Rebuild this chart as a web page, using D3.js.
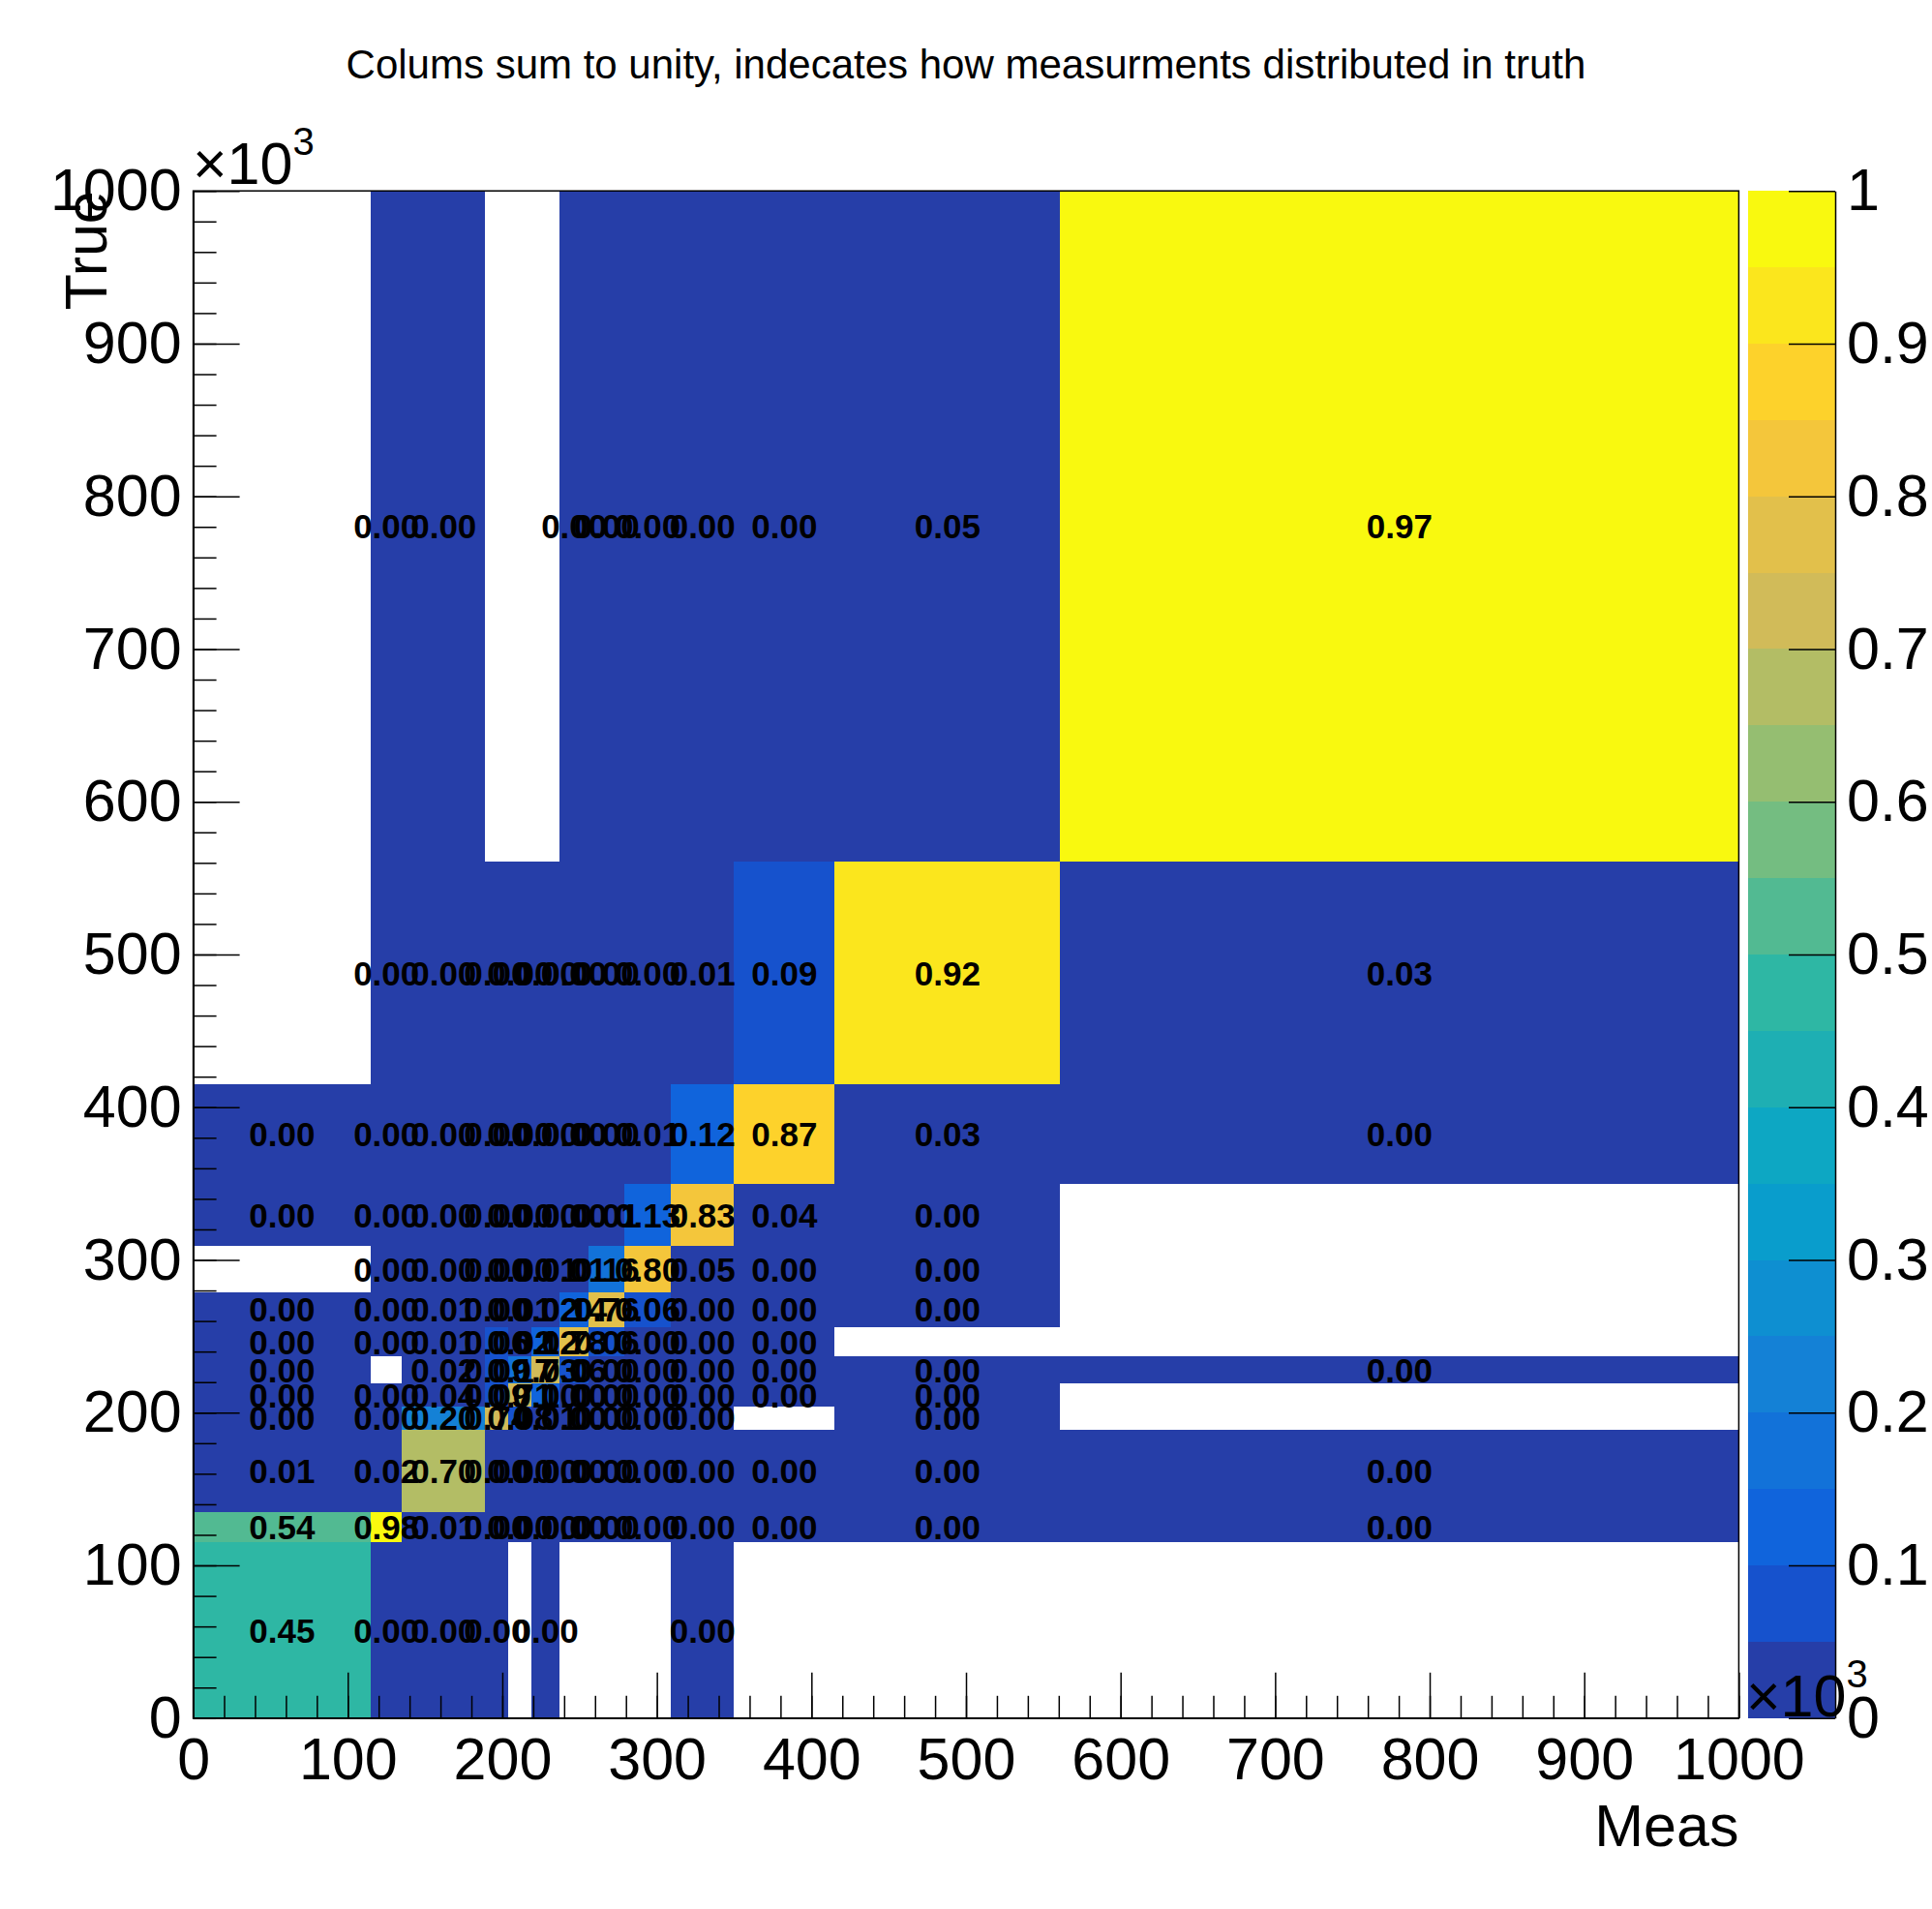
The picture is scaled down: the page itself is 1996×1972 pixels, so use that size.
<!DOCTYPE html>
<html>
<head>
<meta charset="utf-8">
<script src="https://cdn.jsdelivr.net/npm/d3@7"></script>
<style>
  body { margin: 0; background: #fff; }
  text { font-family: "Liberation Sans", Arial, Helvetica, sans-serif; }
</style>
</head>
<body>
<script>
// bin edges (same for Meas and True), in units of 10^3
const binEdges = [0, 115, 135, 189, 204, 219, 237, 256, 279, 309, 350, 415, 561, 1000];

// one array per True bin, entries ordered by Meas bin; null = empty bin
const true000_115 = [0.45, 0.002, 0.002, 0.003, null, 0.002, null, null, null, 0.001, null, null, null];
const true115_135 = [0.54, 0.98, 0.01, 0.002, 0.001, 0.001, 0.001, 0.001, 0.001, 0.001, 0.001, 0.001, 0.001];
const true135_189 = [0.01, 0.02, 0.698, 0.004, 0.002, 0.002, 0.002, 0.001, 0.001, 0.001, 0.001, 0.001, 0.001];
const true189_204 = [0.002, 0.001, 0.203, 0.74, 0.08, 0.01, 0.002, 0.001, 0.001, 0.001, null, 0.001, null];
const true204_219 = [0.001, 0.001, 0.04, 0.09, 0.71, 0.10, 0.003, 0.002, 0.001, 0.001, 0.001, 0.001, null];
const true219_237 = [0.002, null, 0.02, 0.09, 0.17, 0.73, 0.06, 0.004, 0.002, 0.001, 0.001, 0.001, 0.001];
const true237_256 = [0.001, 0.001, 0.01, 0.06, 0.02, 0.12, 0.78, 0.06, 0.004, 0.002, 0.001, null, null];
const true256_279 = [0.001, 0.001, 0.01, 0.003, 0.01, 0.02, 0.14, 0.76, 0.06, 0.003, 0.002, 0.001, null];
const true279_309 = [null, 0.001, 0.003, 0.002, 0.003, 0.01, 0.01, 0.16, 0.801, 0.046, 0.003, 0.001, null];
const true309_350 = [0.001, 0.001, 0.002, 0.002, 0.002, 0.002, 0.003, 0.01, 0.13, 0.83, 0.04, 0.002, null];
const true350_415 = [0.001, 0.001, 0.002, 0.001, 0.001, 0.001, 0.002, 0.003, 0.01, 0.12, 0.87, 0.03, 0.002];
const true415_561 = [null, 0.001, 0.001, 0.001, 0.001, 0.001, 0.001, 0.001, 0.002, 0.01, 0.09, 0.92, 0.03];
const true561_1000 = [null, 0.001, 0.001, null, null, null, 0.001, 0.001, 0.001, 0.002, 0.002, 0.046, 0.97];

const trueRows = [true000_115, true115_135, true135_189, true189_204, true204_219, true219_237,
  true237_256, true256_279, true279_309, true309_350, true350_415, true415_561, true561_1000];

const axisTicks = d3.range(0, 1001, 100);
const paletteTicks = d3.range(0, 11).map(i => i / 10);
const nLevels = 20;

const W = 1996, H = 1972;
const padLeft = 199.6, padRight = 1796.4, padTop = 197.2, padBottom = 1774.8;

const svg = d3.select("body").append("svg")
    .attr("width", W)
    .attr("height", H);

const x = d3.scaleLinear().domain([0, 1000]).range([padLeft, padRight]);
const y = d3.scaleLinear().domain([0, 1000]).range([padBottom, padTop]);
const z = d3.scaleLinear().domain([0, 1]).range([padBottom, padTop]);

// kBird palette, 255 colours like ROOT's gradient table
const stops = [0.0000, 0.1250, 0.2500, 0.3750, 0.5000, 0.6250, 0.7500, 0.8750, 1.0000];
const red   = [0.2082, 0.0592, 0.0780, 0.0232, 0.1802, 0.5301, 0.8186, 0.9956, 0.9764];
const green = [0.1664, 0.3599, 0.5041, 0.6419, 0.7178, 0.7492, 0.7328, 0.7862, 0.9832];
const blue  = [0.5293, 0.8684, 0.8385, 0.7914, 0.6425, 0.4662, 0.3499, 0.1968, 0.0539];
const nColors = 255;
const table = [];
for (let g = 1; g < stops.length; g++) {
    let n = Math.floor(nColors * stops[g]) - Math.floor(nColors * stops[g - 1]);
    for (let c = 0; c < n; c++) {
        let f = c / n;
        table.push(d3.rgb(
            255 * (red[g - 1] + f * (red[g] - red[g - 1])),
            255 * (green[g - 1] + f * (green[g] - green[g - 1])),
            255 * (blue[g - 1] + f * (blue[g] - blue[g - 1]))
        ).toString());
    }
}

function levelColor(level) {
    let idx = Math.floor((level + 0.99) * nColors / nLevels);
    return table[Math.min(idx, table.length - 1)];
}
function colorOf(v) {
    let level = Math.floor(0.01 + v * nLevels);
    return levelColor(Math.min(level, nLevels - 1));
}

// cells
const cells = [];
trueRows.forEach((row, i) => {
    row.forEach((v, j) => {
        if (v !== null) cells.push({ i, j, v });
    });
});

const plot = svg.append("g");
plot.selectAll("rect.cell")
    .data(cells)
    .enter().append("rect")
    .attr("class", "cell")
    .attr("x", d => x(binEdges[d.j]))
    .attr("y", d => y(binEdges[d.i + 1]))
    .attr("width", d => x(binEdges[d.j + 1]) - x(binEdges[d.j]))
    .attr("height", d => y(binEdges[d.i]) - y(binEdges[d.i + 1]))
    .attr("fill", d => colorOf(d.v))
    .attr("shape-rendering", "crispEdges");

// palette
const pal = svg.append("g");
pal.selectAll("rect")
    .data(d3.range(nLevels))
    .enter().append("rect")
    .attr("x", 1806)
    .attr("width", 90)
    .attr("y", k => z((k + 1) / nLevels))
    .attr("height", k => z(k / nLevels) - z((k + 1) / nLevels))
    .attr("fill", k => levelColor(k))
    .attr("shape-rendering", "crispEdges");

const fontSize = 61;

// axes, ticks pointing inward
function styleAxis(g) {
    g.selectAll("path, line").attr("stroke", "#000").attr("stroke-width", 1.5);
    g.selectAll("text").attr("font-size", fontSize).attr("fill", "#000")
        .attr("font-family", "'Liberation Sans', Arial, sans-serif");
}

svg.append("g")
    .attr("transform", `translate(0,${padBottom})`)
    .call(d3.axisBottom(x).tickValues(d3.range(0, 1001, 20)).tickSizeInner(-23).tickSizeOuter(0).tickFormat(""))
    .call(styleAxis);
svg.append("g")
    .attr("transform", `translate(0,${padBottom})`)
    .call(d3.axisBottom(x).tickValues(axisTicks).tickSizeInner(-47).tickSizeOuter(0).tickPadding(20).tickFormat(d3.format("d")))
    .call(styleAxis);

svg.append("g")
    .attr("transform", `translate(${padLeft},0)`)
    .call(d3.axisLeft(y).tickValues(d3.range(0, 1001, 20)).tickSizeInner(-24).tickSizeOuter(0).tickFormat(""))
    .call(styleAxis);
svg.append("g")
    .attr("transform", `translate(${padLeft},0)`)
    .call(d3.axisLeft(y).tickValues(axisTicks).tickSizeInner(-48).tickSizeOuter(0).tickPadding(12).tickFormat(d3.format("d")))
    .call(styleAxis);

// frame
svg.append("rect")
    .attr("x", padLeft).attr("y", padTop)
    .attr("width", padRight - padLeft).attr("height", padBottom - padTop)
    .attr("fill", "none").attr("stroke", "#000").attr("stroke-width", 1.5);

// palette axis
svg.append("g")
    .attr("transform", `translate(1896,0)`)
    .call(d3.axisRight(z).tickValues(paletteTicks).tickSizeInner(-48).tickSizeOuter(0).tickPadding(12).tickFormat(d3.format("~g")))
    .call(styleAxis);

// cell texts
plot.selectAll("text.val")
    .data(cells)
    .enter().append("text")
    .attr("class", "val")
    .attr("x", d => (x(binEdges[d.j]) + x(binEdges[d.j + 1])) / 2)
    .attr("y", d => (y(binEdges[d.i]) + y(binEdges[d.i + 1])) / 2)
    .attr("dy", "0.36em")
    .attr("text-anchor", "middle")
    .attr("font-size", 35)
    .attr("font-weight", "bold")
    .text(d => d3.format(".2f")(d.v));

// exponent labels
function exponent(px, py) {
    const t = svg.append("text")
        .attr("x", px).attr("y", py)
        .attr("font-size", fontSize);
    t.append("tspan").text("\u00d710");
    t.append("tspan").attr("font-size", 40).attr("dy", -30).text("3");
}
exponent(1804, 1773);
exponent(199, 190);

// titles
svg.append("text")
    .attr("x", 998).attr("y", 81)
    .attr("text-anchor", "middle")
    .attr("font-size", 42)
    .text("Colums sum to unity, indecates how measurments distributed in truth");

svg.append("text")
    .attr("x", padRight).attr("y", 1907)
    .attr("text-anchor", "end")
    .attr("font-size", fontSize)
    .text("Meas");

svg.append("text")
    .attr("transform", `translate(110,${padTop}) rotate(-90)`)
    .attr("text-anchor", "end")
    .attr("font-size", fontSize)
    .text("True");
</script>
</body>
</html>
